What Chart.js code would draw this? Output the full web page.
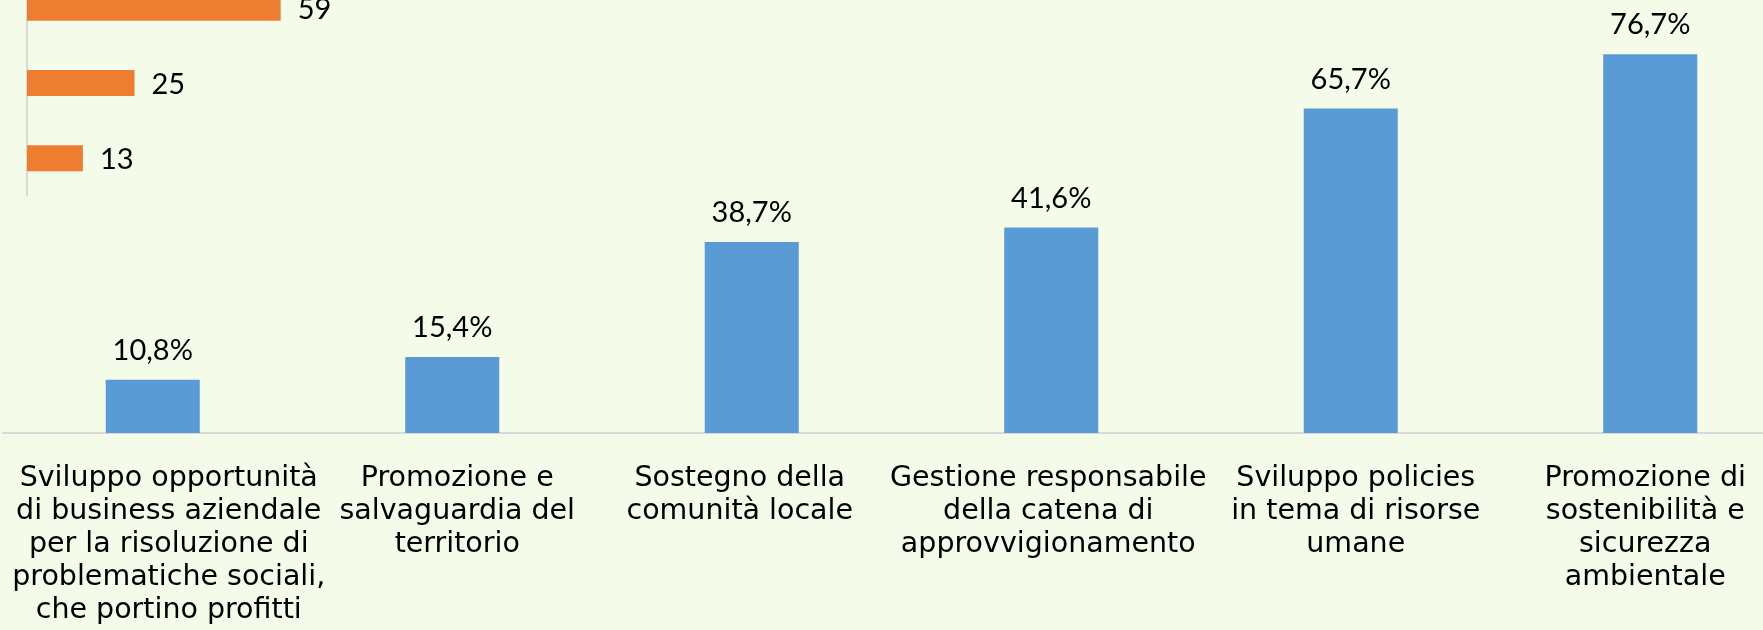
<!DOCTYPE html>
<html>
<head>
<meta charset="utf-8">
<script src="https://cdn.jsdelivr.net/npm/chart.js@4.4.1/dist/chart.umd.min.js"></script>
<style>
  html, body { margin: 0; padding: 0; overflow: hidden; }
  body { width: 1763px; height: 630px; background: #F4FCE9; position: relative; }
  #mainChart { position: absolute; left: 0; top: 0; }
  #sideChart { position: absolute; left: 0; top: -30px; }
</style>
</head>
<body>
<canvas id="mainChart" width="1800" height="630"></canvas>
<canvas id="sideChart" width="420" height="226"></canvas>
<script>
// main chart data
const categories = [
  ["Sviluppo opportunità", "di business aziendale", "per la risoluzione di", "problematiche sociali,", "che portino profitti"],
  ["Promozione e", "salvaguardia del", "territorio"],
  ["Sostegno della", "comunità locale"],
  ["Gestione responsabile", "della catena di", "approvvigionamento"],
  ["Sviluppo policies", "in tema di risorse", "umane"],
  ["Promozione di", "sostenibilità e", "sicurezza", "ambientale"],
];
const percentages = [10.8, 15.4, 38.7, 41.6, 65.7, 76.7];

// the small orange chart peeking in at the top left (its labels are cut off)
const sideCategories = ["", "", ""];
const sideCounts = [59, 25, 13];

// horizontal nudge of each x label, like Excel keeps them inside the frame
const labelShiftsPx = [16, 5, -12, -3, 5, -5];

// Draws the value above / beside each bar
const barValueLabels = {
  id: "barValueLabels",
  afterDatasetsDraw(chart, args, opts) {
    const ctx = chart.ctx;
    const meta = chart.getDatasetMeta(0);
    const values = chart.data.datasets[0].data;
    ctx.save();
    ctx.font = opts.font;
    ctx.fillStyle = opts.color;
    ctx.textBaseline = "alphabetic";
    meta.data.forEach((bar, i) => {
      if (opts.percent) {
        ctx.textAlign = "center";
        ctx.fillText(values[i].toFixed(1).replace(".", ",") + "%", bar.x, bar.y - 20);
      } else {
        ctx.textAlign = "left";
        ctx.fillText(String(values[i]), bar.x + 17, bar.y + 11);
      }
    });
    ctx.restore();
  },
};

const labelNudge = {
  id: "labelNudge",
  beforeDraw(chart) {
    const items = chart.scales.x.getLabelItems();
    items.forEach((item, i) => {
      if (item._nudged) return;
      item.options.translation[0] += labelShiftsPx[i] || 0;
      item._nudged = true;
    });
  },
};

new Chart(document.getElementById("mainChart"), {
  type: "bar",
  data: {
    labels: categories,
    datasets: [
      {
        data: percentages,
        backgroundColor: "#5B9BD5",
        barPercentage: 0.314,
        categoryPercentage: 1,
      },
    ],
  },
  options: {
    responsive: false,
    animation: false,
    layout: { padding: { left: 3, right: 0, top: 0, bottom: 0 } },
    plugins: {
      legend: { display: false },
      tooltip: { enabled: false },
      barValueLabels: { font: "29px Lato", color: "#000000", percent: true },
    },
    scales: {
      x: {
        grid: { display: false, drawTicks: false },
        border: { display: true, color: "#D9D9D9", width: 2 },
        ticks: {
          color: "#000000",
          font: { family: "DejaVu Sans", size: 28.5, lineHeight: 1.158 },
          padding: 29.5,
          maxRotation: 0,
          minRotation: 0,
          autoSkip: false,
        },
        afterFit(scale) {
          scale.height = 197;
          scale.paddingLeft = 0;
          scale.paddingRight = 0;
        },
      },
      y: { display: false, min: 0, max: 87.7 },
    },
  },
  plugins: [barValueLabels, labelNudge],
});

new Chart(document.getElementById("sideChart"), {
  type: "bar",
  data: {
    labels: sideCategories,
    datasets: [
      {
        data: sideCounts,
        backgroundColor: "#ED7D31",
        barPercentage: 0.345,
        categoryPercentage: 1,
      },
    ],
  },
  options: {
    indexAxis: "y",
    responsive: false,
    animation: false,
    layout: { padding: { left: 27, right: 49, top: 0, bottom: 0 } },
    plugins: {
      legend: { display: false },
      tooltip: { enabled: false },
      barValueLabels: { font: "29px Lato", color: "#000000", percent: false },
    },
    scales: {
      x: { display: false, min: 0, max: 80 },
      y: {
        grid: { display: false, drawTicks: false },
        border: { display: true, color: "#D9D9D9", width: 2 },
        ticks: { display: false },
        afterFit(scale) {
          scale.width = 0;
        },
      },
    },
  },
  plugins: [barValueLabels],
});
</script>
</body>
</html>
